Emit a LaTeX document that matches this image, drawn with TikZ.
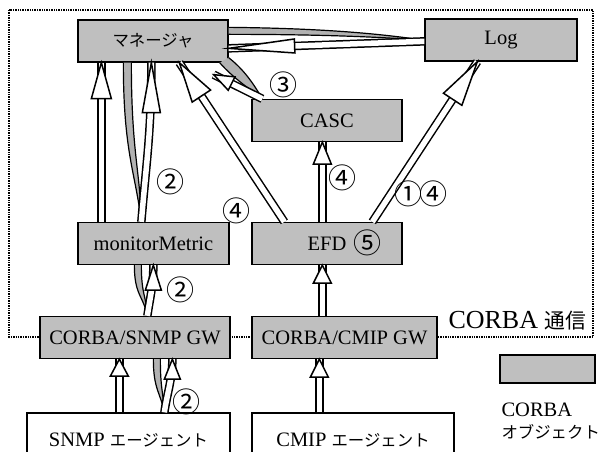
\documentclass[tikz,border=0pt]{standalone}
\usepackage{fontspec}
\setmainfont{Liberation Serif}
\newfontfamily\jp[Scale=0.8]{Noto Sans CJK JP}
\usetikzlibrary{calc,decorations.markings}

\tikzset{
  objet/.style={draw, line width=1.3pt, fill=black!25, minimum height=42pt,
    inner sep=0pt, font=\fontsize{20.5}{22}\selectfont},
  agent/.style={draw, line width=1.3pt, fill=white, minimum height=54pt,
    inner sep=0pt, font=\fontsize{20.5}{22}\selectfont},
  num/.style={inner sep=0pt, font=\fontsize{35}{35}\selectfont\jp},
  tube/.style={draw, line width=1.2pt, fill=black!30, line join=round},
  creux/.style 2 args={line width=1.5pt, double, double distance=5.5pt,
    postaction={decorate, decoration={markings, mark=at position 1 with {
      \filldraw[line width=1.5pt, fill=white] (0pt,0pt) -- (-#1pt,#2pt)
        -- (-#1pt,-#2pt) -- cycle;}}}}
}

\begin{document}
\begin{tikzpicture}[x=1pt,y=-1pt]

\useasboundingbox (0,0) rectangle (606,452);

% Cadre CORBA
\draw[densely dotted, line width=1.4pt] (9,10) rectangle (593,337);

\node[anchor=west, font=\fontsize{26}{28}\selectfont] (reseau) at (445,321)
{CORBA {\jp 通信}};

% Objets
\node[objet, minimum width=150pt] (mgr) at (153,41) {\jp マネージャ};
\node[objet, minimum width=152pt] (log) at (501,40) {Log};
\node[objet, minimum width=150pt] (casc) at (327,120.5) {CASC};
\node[objet, minimum width=151pt] (mm) at (153.5,243.5) {monitorMetric};
\node[objet, minimum width=150pt] (efd) at (327,243.5) {EFD};
\node[objet, minimum width=190pt] (sgw) at (135,337.5) {CORBA/SNMP GW};
\node[objet, minimum width=185pt] (cgw) at (344.5,337.5) {CORBA/CMIP GW};

\node[agent, minimum width=203pt] (sag) at (128.5,440) {SNMP {\jp エージェント}};
\node[agent, minimum width=202pt] (cag) at (353,440) {CMIP {\jp エージェント}};

% Legende
\node[objet, minimum width=95pt, minimum height=28pt] (cle) at (547.5,369) {};
\node[anchor=west, font=\fontsize{20.5}{22}\selectfont] (cle1) at (498,410) {CORBA};
\node[anchor=west, font=\fontsize{20.5}{22}\selectfont] (cle2) at (498,432)
{\jp オブジェクト};

% Requetes
\filldraw[tube] ($(mgr.south west)+(46,0)$) .. controls +(0,90) and +(-6,-50)
  .. ($(mm.north west)+(64,0)$) .. controls +(-1,-50) and +(0,90)
  .. ($(mgr.south west)+(54,0)$);
\filldraw[tube] ($(mgr.north east)+(0,8)$) .. controls +(100,1) and +(-40,-6)
  .. ($(log.north west)+(0,22)$) .. controls +(-40,-3) and +(100,0)
  .. ($(mgr.north east)+(0,15)$);
\filldraw[tube] ($(mgr.south east)+(0,-5)$) .. controls +(18,14) and +(-6,-10)
  .. ($(casc.north west)+(11,0)$) .. controls +(-10,-8) and +(14,16)
  .. ($(mgr.south east)+(-9,0)$);
\filldraw[tube] ($(mm.south west)+(57,0)$) .. controls +(0,30) and +(-4,-20)
  .. ($(sgw.north west)+(108,0)$) .. controls +(-1,-20) and +(0,30)
  .. ($(mm.south west)+(64,0)$);
\filldraw[tube] ($(sgw.south west)+(114,0)$) .. controls +(0,30) and +(-4,-20)
  .. ($(sag.north west)+(138,0)$) .. controls +(-1,-20) and +(0,30)
  .. ($(sgw.south west)+(121,0)$);

% Fleches
\draw[creux={36}{10}] ($(mm.north west)+(24,0)$) -- ($(mgr.south west)+(24,0)$);
\draw[creux={50}{9}] ($(mm.north west)+(64,0)$) .. controls +(5,-60) and +(0,70)
  .. ($(mgr.south west)+(74,0)$);
\draw[creux={40}{11}] ($(efd.north west)+(33,0)$) -- ($(mgr.south west)+(102,0)$);
\draw[creux={22}{9}] ($(efd.north west)+(71,0)$) -- ($(casc.south west)+(71,0)$);
\draw[creux={45}{11}] ($(efd.north west)+(121,0)$) -- ($(log.south west)+(53,0)$);
\draw[creux={66}{7}] ($(log.north west)+(0,23)$) -- ($(mgr.north east)+(0,29)$);
\draw[creux={20}{7.5}] ($(casc.north west)+(11,0)$) -- ($(mgr.south east)+(-15,12)$);
\draw[creux={25}{8}] ($(sgw.north west)+(108,0)$) .. controls +(3,-20) and +(0,20)
  .. ($(mm.south west)+(76,0)$);
\draw[creux={17}{9}] ($(sag.north west)+(93,0)$) -- ($(sgw.south west)+(80,0)$);
\draw[creux={20}{8}] ($(sag.north west)+(138,0)$) .. controls +(3,-20) and +(0,20)
  .. ($(sgw.south west)+(133,0)$);
\draw[creux={18}{9}] ($(cgw.north west)+(71,0)$) -- ($(efd.south west)+(71,0)$);
\draw[creux={18}{9}] ($(cag.north west)+(68,0)$) -- ($(cgw.south west)+(68,0)$);

% Numeros
\foreach \x/\y/\t/\nom in {
283/85/③/n3, 170/182/②/n2a, 236/211/④/n4a,
342/178/④/n4b, 408/194/①/n1, 433/194/④/n4c,
367/243/⑤/n5, 180/290/②/n2b, 186/402/②/n2c
}
{
\node[num] (\nom) at (\x,\y) {\t};
}

\end{tikzpicture}
\end{document}
